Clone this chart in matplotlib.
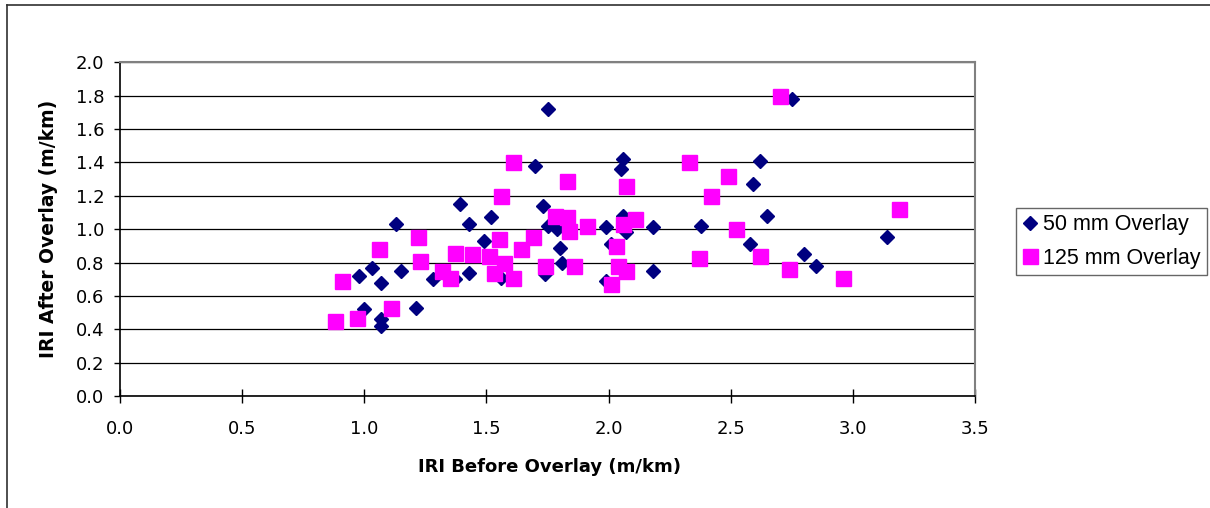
import matplotlib
matplotlib.use("Agg")
import matplotlib.pyplot as plt
from matplotlib.lines import Line2D

plt.rcParams['font.family'] = ['DejaVu Sans']

# 50 mm overlay (IRI before, IRI after)
x50 = [0.98, 1.00, 1.03, 1.07, 1.07, 1.07, 1.13, 1.15, 1.21, 1.28, 1.37, 1.39,
       1.43, 1.43, 1.49, 1.52, 1.56, 1.70, 1.73, 1.75, 1.75, 1.74, 1.79, 1.80,
       1.81, 1.99, 1.99, 2.01, 2.05, 2.06, 2.06, 2.07, 2.18, 2.18, 2.38, 2.58,
       2.59, 2.62, 2.65, 2.75, 2.80, 2.85, 3.14]
y50 = [0.72, 0.52, 0.77, 0.68, 0.46, 0.42, 1.03, 0.75, 0.53, 0.70, 0.70, 1.15,
       1.03, 0.74, 0.93, 1.07, 0.71, 1.38, 1.14, 1.72, 1.02, 0.73, 1.00, 0.89,
       0.80, 1.01, 0.69, 0.91, 1.36, 1.42, 1.08, 0.98, 1.01, 0.75, 1.02, 0.91,
       1.27, 1.41, 1.08, 1.78, 0.85, 0.78, 0.95]

# 125 mm overlay
x125 = [0.88, 0.91, 0.97, 1.06, 1.11, 1.22, 1.23, 1.32, 1.35, 1.37, 1.44, 1.51,
        1.53, 1.55, 1.56, 1.57, 1.61, 1.61, 1.64, 1.69, 1.74, 1.78, 1.83, 1.83,
        1.84, 1.86, 1.91, 2.01, 2.03, 2.04, 2.06, 2.07, 2.07, 2.11, 2.33, 2.37,
        2.42, 2.49, 2.52, 2.62, 2.70, 2.74, 2.96, 3.19]
y125 = [0.45, 0.69, 0.47, 0.88, 0.53, 0.95, 0.81, 0.75, 0.71, 0.86, 0.85, 0.84,
        0.74, 0.94, 1.20, 0.80, 1.40, 0.71, 0.88, 0.95, 0.78, 1.08, 1.07, 1.29,
        0.99, 0.78, 1.02, 0.67, 0.90, 0.78, 1.03, 1.26, 0.75, 1.06, 1.40, 0.83,
        1.20, 1.32, 1.00, 0.84, 1.80, 0.76, 0.71, 1.12]

x_ticks = [0.0, 0.5, 1.0, 1.5, 2.0, 2.5, 3.0, 3.5]
y_ticks = [0.0, 0.2, 0.4, 0.6, 0.8, 1.0, 1.2, 1.4, 1.6, 1.8, 2.0]

W, H = 1210, 508
fig = plt.figure(figsize=(W / 100, H / 100), dpi=100)
ax = fig.add_axes([120 / W, 1 - 396 / H, (975 - 120) / W, (396 - 62.3) / H])

ax.set_xlim(0, 3.5)
ax.set_ylim(0, 2.0)
ax.set_xticks(x_ticks)
ax.set_yticks(y_ticks)
ax.set_xticklabels([f"{v:.1f}" for v in x_ticks])
ax.set_yticklabels([f"{v:.1f}" for v in y_ticks])

ax.grid(axis='y', color='black', lw=0.9)
ax.set_axisbelow(True)

ax.plot(x50, y50, ls='none', marker='D', ms=7.6, color='#000080',
        mec='#000080', zorder=3)
ax.plot(x125, y125, ls='none', marker='s', ms=10.8, color='#FF00FF',
        mec='#FF00FF', zorder=3)

for s in ['left', 'bottom']:
    ax.spines[s].set_color('black')
    ax.spines[s].set_linewidth(1.2)
for s in ['top', 'right']:
    ax.spines[s].set_color('#808080')
    ax.spines[s].set_linewidth(1.5)

ax.tick_params(axis='y', direction='out', length=4.3, width=1, labelsize=13, pad=7)
ax.tick_params(axis='x', direction='inout', length=10, width=1, labelsize=13, pad=12)

ax.set_xlabel('IRI Before Overlay (m/km)', fontsize=13, fontweight='bold')
ax.set_ylabel('IRI After Overlay (m/km)', fontsize=13.5, fontweight='bold')
ax.xaxis.set_label_coords(0.502, -0.187)
ax.yaxis.set_label_coords(-0.072, 0.5)

handles = [Line2D([], [], ls='none', marker='D', ms=7.6, color='#000080'),
           Line2D([], [], ls='none', marker='s', ms=10.8, color='#FF00FF')]
leg = fig.legend(handles, ['50 mm Overlay', '125 mm Overlay'],
                 loc='upper left', bbox_to_anchor=(1016 / W, 1 - 208 / H),
                 prop={'family': 'Liberation Sans', 'size': 15.5},
                 frameon=True, fancybox=False, handlelength=0.7,
                 handletextpad=0.25, borderpad=0.3, labelspacing=0.58,
                 borderaxespad=0)
leg.get_frame().set_edgecolor('#404040')
leg.get_frame().set_linewidth(1.0)

# outer chart border (left and top visible)
fig.add_artist(Line2D([7 / W, 7 / W], [0, 1 - 5 / H], color='#303030', lw=1.2,
                      transform=fig.transFigure))
fig.add_artist(Line2D([7 / W, 1], [1 - 5 / H, 1 - 5 / H], color='#303030', lw=1.2,
                      transform=fig.transFigure))

fig.savefig('out.png', dpi=100)
